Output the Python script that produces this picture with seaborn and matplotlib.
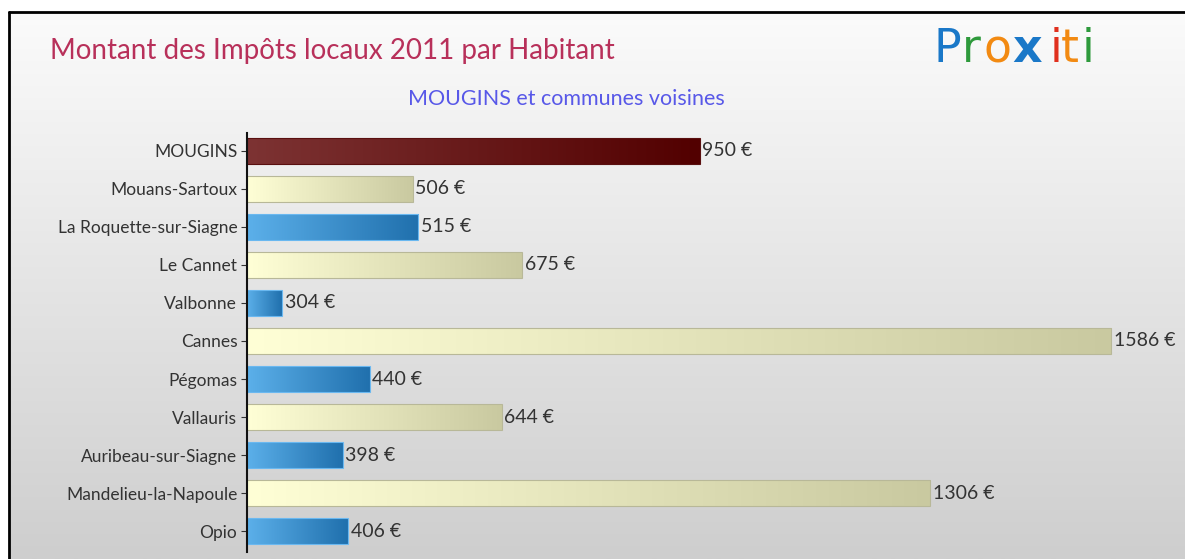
import numpy as np
import pandas as pd
import matplotlib
matplotlib.use("Agg")
import matplotlib.pyplot as plt
from matplotlib.colors import LinearSegmentedColormap
import seaborn as sns

# data
communes = ["MOUGINS", "Mouans-Sartoux", "La Roquette-sur-Siagne", "Le Cannet",
            "Valbonne", "Cannes", "Pégomas", "Vallauris", "Auribeau-sur-Siagne",
            "Mandelieu-la-Napoule", "Opio"]
impots = [950, 506, 515, 675, 304, 1586, 440, 644, 398, 1306, 406]

title = "Montant des Impôts locaux 2011 par Habitant"
subtitle = "MOUGINS et communes voisines"

df = pd.DataFrame({"commune": communes, "impots": impots})

sns.set_style("white")
plt.rcParams["font.family"] = ["Lato", "DejaVu Sans"]

W, H = 1185, 559
fig = plt.figure(figsize=(W / 100, H / 100), dpi=100)
fig.patch.set_facecolor("white")

# background gradient inside the frame
bg = fig.add_axes([10 / W, 0, 1 - 10 / W, (H - 12) / H], zorder=-2)
grad = np.linspace(0, 1, 256).reshape(-1, 1)
bg_cmap = LinearSegmentedColormap.from_list("bg", ["#fbfbfb", "#cecece"])
bg.imshow(grad, aspect="auto", cmap=bg_cmap, extent=[0, 1, 0, 1], origin="upper")
bg.set_axis_off()

# frame lines (top and left)
fig.add_artist(plt.Line2D([9 / W, 1], [(H - 12) / H] * 2, color="black", lw=2))
fig.add_artist(plt.Line2D([9 / W] * 2, [0, (H - 12) / H], color="black", lw=2))

ax = fig.add_axes([247 / W, 7 / H, 1 - 247 / W, (552 - 133) / H])
ax.patch.set_alpha(0)

sns.barplot(data=df, x="impots", y="commune", orient="h", ax=ax,
            color="#dddddd", width=0.7, saturation=1, linewidth=0)

ax.set_xlim(250, 1700)
ax.set_ylim(len(communes) - 0.5 + 0.05, -0.47)

grads = {
    "main": ["#7d3333", "#520000"],
    "yellow": ["#ffffd6", "#c9c9a0"],
    "blue": ["#5cb0ea", "#2070ad"],
}
edges = {"main": "#5a1010", "yellow": "#b8b898", "blue": "#6ab8f0"}

x0 = ax.get_xlim()[0]
for i, patch in enumerate(ax.patches):
    kind = "main" if i == 0 else ("yellow" if i % 2 == 1 else "blue")
    cm = LinearSegmentedColormap.from_list(kind, grads[kind])
    y = patch.get_y()
    h = patch.get_height()
    w = patch.get_width()
    patch.set_facecolor("none")
    patch.set_edgecolor(edges[kind])
    patch.set_linewidth(0.8)
    im = ax.imshow(np.linspace(0, 1, 256).reshape(1, -1), cmap=cm, aspect="auto",
                   extent=[x0, w, y + h, y], zorder=1)
    im.set_clip_path(patch)
    patch.set_zorder(2)
    ax.text(w + 4, y + h / 2, f"{w:.0f} €", va="center", ha="left",
            fontsize=14, color="#333333", zorder=3)

ax.set_xlim(250, 1700)
ax.set_ylim(len(communes) - 0.5 + 0.05, -0.47)

ax.set_xlabel("")
ax.set_ylabel("")
ax.set_xticks([])
for s in ["top", "right", "bottom"]:
    ax.spines[s].set_visible(False)
ax.spines["left"].set_color("#111111")
ax.spines["left"].set_linewidth(1.5)
ax.tick_params(axis="y", left=True, length=4, width=0.8, color="#333333",
               labelsize=12.5, labelcolor="#333333", pad=3)

fig.text(50 / W, 1 - 51 / H, title, fontsize=20, color="#b8305a",
         ha="left", va="center")
fig.text(566 / W, 1 - 99 / H, subtitle, fontsize=15.5, color="#5858e8",
         ha="center", va="center")

# Proxiti logo
logo = [("P", "#1a78c8"), ("r", "#2e9a3c"), ("o", "#f28a12"), ("x", "#1a78c8"),
        ("i", "#e0301e"), ("t", "#f28a12"), ("i", "#2e9a3c")]
lx = [933, 962, 983, 1012, 1050, 1061, 1082]
for (ch, col), px in zip(logo, lx):
    fig.text(px / W, 1 - 50 / H, ch, fontsize=33, color=col,
             ha="left", va="center", family=["DejaVu Sans"],
             fontweight="bold" if ch == "x" else "normal")

fig.savefig("out.png", dpi=100)
